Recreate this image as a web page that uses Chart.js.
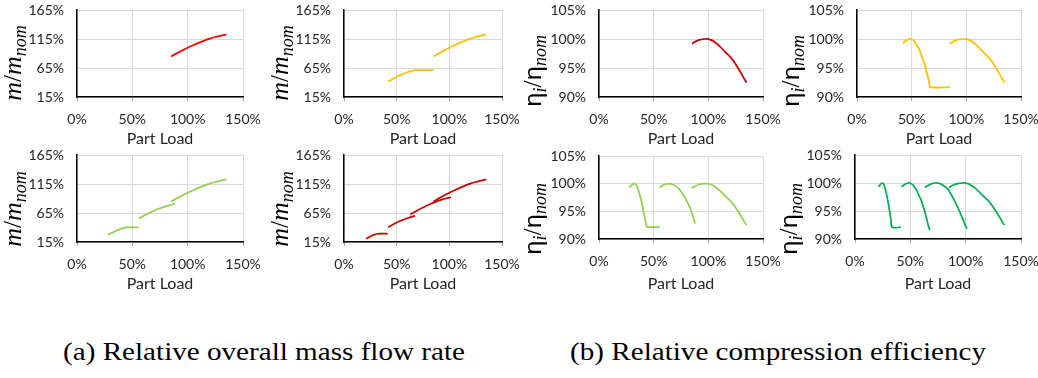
<!DOCTYPE html>
<html>
<head>
<meta charset="utf-8">
<script src="https://cdn.jsdelivr.net/npm/chart.js@4.4.1/dist/chart.umd.min.js"></script>
<style>
body { margin: 0; background: #fff; width: 1038px; height: 378px; position: relative; overflow: hidden; }
canvas { position: absolute; }
.cap { position: absolute; font-family: "Liberation Serif", serif; font-size: 26px; color: #000; white-space: nowrap; transform: translate(-50%, -50%) scaleX(1.12); }
</style>
</head>
<body>
<div class="cap" style="left:264px; top:352px">(a) Relative overall mass flow rate</div>
<div class="cap" style="left:778px; top:352px">(b) Relative compression efficiency</div>
<script>
// Relative mass flow vs part load
const loadMassFull = [85, 90, 95, 100, 105, 110, 115, 120, 125, 130, 135];
const massFull     = [85, 90.2, 95.2, 100, 104.3, 108.4, 112.2, 115.6, 118.4, 120.8, 122.8];
const loadMass2A = [42, 45, 50, 55, 60, 65, 67.5, 85];
const mass2A     = [41.5, 44.8, 49.8, 54, 57.6, 60.3, 61.4, 61.4];
const loadMass3A = [28, 30, 33, 36, 39, 42, 44.5, 55.5];
const mass3A     = [27.5, 29.5, 32.3, 35, 37.3, 39.3, 40.3, 40.3];
const loadMass3B = [56, 60, 65, 70, 75, 80, 85, 88.5];
const mass3B     = [55.5, 59.8, 64.8, 69.3, 73.2, 76.5, 79.2, 81];
const loadMass4A = [21, 23, 25, 27, 29, 31, 33.5, 41.5];
const mass4A     = [20.5, 22.5, 24.5, 26.2, 27.7, 28.8, 29.5, 29.5];
const loadMass4B = [42, 45, 50, 55, 60, 65, 67.5];
const mass4B     = [40.5, 43.5, 48.5, 52.5, 56, 58.8, 60];
const loadMass4C = [63, 67.5, 71.25, 75, 78.75, 82.5, 86.25, 90, 93.75, 97.5, 101.5];
const mass4C     = [62.5, 67.3, 71, 74.5, 77.8, 80.9, 83.8, 86.4, 88.6, 90.4, 91.8];

// Relative compression efficiency vs part load
const loadEffFull = [85, 88, 91, 94, 97, 100, 103, 106, 109, 112, 115, 118, 121, 124, 127, 130, 133, 135];
const effFull     = [99.2, 99.55, 99.8, 99.95, 100, 99.98, 99.8, 99.45, 99, 98.45, 97.85, 97.3, 96.7, 95.95, 95.05, 94.1, 93.1, 92.5];
const loadEff2A = [42, 44, 46, 48, 50, 52, 54, 56, 58, 60, 62, 64, 66, 67, 85];
const eff2A     = [99.3, 99.6, 99.85, 100, 99.95, 99.7, 99.2, 98.6, 97.7, 96.6, 95.6, 94.1, 92.6, 91.7, 91.7];
const loadEff3A = [28, 29.5, 31, 32.5, 34, 35.5, 37, 38.5, 40, 41.5, 43, 44, 55.5];
const eff3A     = [99.3, 99.65, 99.9, 100, 99.8, 99.2, 98.2, 97.1, 95.7, 94.2, 92.9, 92.2, 92.2];
const loadEff3B = [55.5, 58, 61, 64, 67, 70, 73, 76, 79, 82, 85, 88];
const eff3B     = [99.3, 99.65, 99.9, 100, 99.9, 99.6, 99.1, 98.3, 97.3, 96.2, 94.7, 92.8];
const loadEff4A = [21.5, 22.5, 23.5, 24.5, 25.5, 26.5, 27.5, 28.5, 29.5, 30.5, 31.5, 32.5, 33.5, 41.5];
const eff4A     = [99.3, 99.65, 99.9, 100, 99.9, 99.5, 98.9, 98, 97, 95.9, 94.7, 93.5, 92.1, 92.1];
const loadEff4B = [42, 44, 46, 48, 50, 52, 54, 56, 58, 60, 62, 64, 66, 67.5];
const eff4B     = [99.3, 99.6, 99.85, 100, 99.95, 99.7, 99.2, 98.6, 97.7, 96.8, 95.6, 94.2, 92.6, 91.6];
const loadEff4C = [63, 66, 69, 72, 75, 78, 81, 84, 87, 90, 93, 96, 99, 101];
const eff4C     = [99.2, 99.55, 99.85, 100, 100, 99.8, 99.4, 98.9, 97.9, 96.8, 95.6, 94.2, 92.8, 91.8];

const xTicks = [0, 50, 100, 150];
const massTicks = [15, 65, 115, 165];
const effTicks = [90, 95, 100, 105];

function pts(xs, ys) {
    return xs.map((x, i) => ({ x: x, y: ys[i] }));
}

// panel layout: chart area edges, "Part Load" centre line, y title centre above bottom
const panels = [
    { L: 77,  T: 10,  R: 243,  B: 97,  titleY: 139, yTitleUp: 34, kind: 'mass', color: '#FF0000',
      series: [[loadMassFull, massFull]] },
    { L: 344, T: 10,  R: 502,  B: 97,  titleY: 139, yTitleUp: 34, kind: 'mass', color: '#FFC000',
      series: [[loadMass2A, mass2A], [loadMassFull, massFull]] },
    { L: 599, T: 10,  R: 763,  B: 97,  titleY: 139, yTitleUp: 26, kind: 'eff', color: '#C80000',
      series: [[loadEffFull, effFull]] },
    { L: 857, T: 10,  R: 1021, B: 97,  titleY: 139, yTitleUp: 26, kind: 'eff', color: '#FFC000',
      series: [[loadEff2A, eff2A], [loadEffFull, effFull]] },
    { L: 77,  T: 155, R: 243,  B: 242, titleY: 284, yTitleUp: 33, kind: 'mass', color: '#92D050',
      series: [[loadMass3A, mass3A], [loadMass3B, mass3B], [loadMassFull, massFull]] },
    { L: 344, T: 155, R: 502,  B: 242, titleY: 284, yTitleUp: 33, kind: 'mass', color: '#C80000',
      series: [[loadMass4A, mass4A], [loadMass4B, mass4B], [loadMass4C, mass4C], [loadMassFull, massFull]] },
    { L: 599, T: 156, R: 763,  B: 239, titleY: 284, yTitleUp: 20, kind: 'eff', color: '#92D050',
      series: [[loadEff3A, eff3A], [loadEff3B, eff3B], [loadEffFull, effFull]] },
    { L: 855, T: 155, R: 1021, B: 239, titleY: 284, yTitleUp: 20, kind: 'eff', color: '#00B050',
      series: [[loadEff4A, eff4A], [loadEff4B, eff4B], [loadEff4C, eff4C], [loadEffFull, effFull]] }
];

const tickFont = { family: 'Lato', size: 14 };
const textColor = '#262626';

// rotated y title with subscripts
function yTitlePlugin(kind, bx, cy) {
    const serifI = sz => 'italic ' + sz + 'px "Liberation Serif", serif';
    const serif = sz => sz + 'px "Liberation Serif", serif';
    const eta = '24px "Noto Sans", sans-serif';
    const parts = kind === 'mass'
        ? [{ t: 'm', f: serifI(26), dy: 0 }, { t: '/', f: serif(25), dy: 0 },
           { t: 'm', f: serifI(26), dy: 0 }, { t: 'nom', f: serifI(18), dy: 5 }]
        : [{ t: '\u03b7', f: eta, dy: 0 }, { t: 'i', f: serifI(18), dy: 5 },
           { t: '/', f: serif(25), dy: 0 }, { t: '\u03b7', f: eta, dy: 0 },
           { t: 'nom', f: serifI(18), dy: 5 }];
    return {
        id: 'yTitle',
        afterDraw(chart) {
            const ctx = chart.ctx;
            ctx.save();
            ctx.translate(bx, cy);
            ctx.rotate(-Math.PI / 2);
            ctx.fillStyle = '#000';
            ctx.textBaseline = 'alphabetic';
            ctx.textAlign = 'left';
            let total = 0;
            parts.forEach(p => { ctx.font = p.f; total += ctx.measureText(p.t).width; });
            let x = -total / 2;
            parts.forEach(p => {
                ctx.font = p.f;
                ctx.fillText(p.t, x, p.dy);
                x += ctx.measureText(p.t).width;
            });
            ctx.restore();
        }
    };
}

panels.forEach(p => {
    const cl = p.L - 77;
    const ct = p.T - 10;
    const cw = p.R - cl + 25;
    const ch = p.titleY + 9 - ct;
    const canvas = document.createElement('canvas');
    canvas.width = cw;
    canvas.height = ch;
    canvas.style.left = cl + 'px';
    canvas.style.top = ct + 'px';
    canvas.style.width = cw + 'px';
    canvas.style.height = ch + 'px';
    document.body.appendChild(canvas);

    const yT = p.kind === 'mass' ? massTicks : effTicks;
    const titleCy = p.B - p.yTitleUp - ct;

    new Chart(canvas.getContext('2d'), {
        type: 'scatter',
        data: {
            datasets: p.series.map(s => ({
                data: pts(s[0], s[1]),
                showLine: true,
                borderColor: p.color,
                borderWidth: 1.75,
                pointRadius: 0,
                tension: 0.3,
                fill: false
            }))
        },
        options: {
            responsive: false,
            animation: false,
            devicePixelRatio: 1,
            layout: { padding: { top: 10, left: 0, right: 25, bottom: 0 } },
            plugins: {
                legend: { display: false },
                tooltip: { enabled: false }
            },
            scales: {
                x: {
                    type: 'linear',
                    min: xTicks[0],
                    max: xTicks[xTicks.length - 1],
                    afterBuildTicks: s => { s.ticks = xTicks.map(v => ({ value: v })); },
                    afterFit: s => {
                        s.height = ch - (p.B - ct);
                        s.paddingLeft = 0;
                        s.paddingRight = 0;
                    },
                    ticks: {
                        font: tickFont,
                        color: textColor,
                        padding: 10,
                        maxRotation: 0,
                        callback: v => v + '%'
                    },
                    grid: { color: '#d9d9d9', tickColor: '#a6a6a6', tickLength: 4, drawTicks: true },
                    border: { color: '#000', width: 1.5 },
                    title: {
                        display: true,
                        text: 'Part Load',
                        font: { family: 'Lato', size: 16 },
                        color: textColor,
                        padding: 0
                    }
                },
                y: {
                    type: 'linear',
                    min: yT[0],
                    max: yT[yT.length - 1],
                    afterBuildTicks: s => { s.ticks = yT.map(v => ({ value: v })); },
                    afterFit: s => {
                        s.width = 77;
                        s.paddingTop = 0;
                        s.paddingBottom = 0;
                    },
                    ticks: {
                        font: tickFont,
                        color: textColor,
                        padding: 13,
                        callback: v => v + '%'
                    },
                    grid: { color: '#d9d9d9', drawTicks: false },
                    border: { color: '#000', width: 1.5 }
                }
            }
        },
        plugins: [yTitlePlugin(p.kind, p.kind === 'mass' ? 21 : 19, titleCy)]
    });
});
</script>
</body>
</html>
